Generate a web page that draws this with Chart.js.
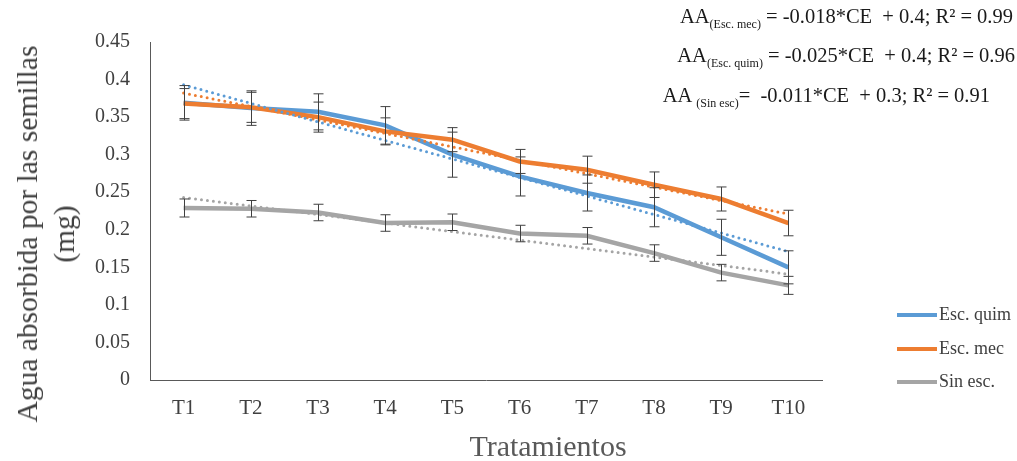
<!DOCTYPE html>
<html>
<head>
<meta charset="utf-8">
<script src="https://cdn.jsdelivr.net/npm/chart.js@4"></script>
<style>
  body { margin: 0; background: #fff; }
  #caja { position: relative; width: 1017px; height: 461px; font-family: "Liberation Serif", serif; }
  .ecuacion { position: absolute; font-size: 20.5px; color: #1a1a1a; white-space: pre; }
  .ecuacion sub { font-size: 12px; }
  .leyenda { position: absolute; left: 897px; font-size: 18px; color: #404040; display: flex; align-items: center; }
  .leyenda span { display: inline-block; width: 40px; height: 4px; margin-right: 2px; }
  .titulo { position: absolute; white-space: nowrap; text-align: center; color: #595959; }
</style>
</head>
<body>
<div id="caja">
  <canvas id="graficoAgua" width="1017" height="461"></canvas>
  <div class="titulo" style="left:46px; top:234px; font-size:29.5px; line-height:37px; color:#404040; transform:translate(-50%,-50%) rotate(-90deg)">Agua absorbida por las semillas<br>(mg)</div>
  <div class="titulo" style="left:548px; top:446px; font-size:30px; transform:translate(-50%,-50%)">Tratamientos</div>
  <div class="ecuacion" style="right:4px; top:5px">AA<sub>(Esc. mec)</sub> = -0.018*CE  + 0.4; R² = 0.99</div>
  <div class="ecuacion" style="right:2px; top:44px">AA<sub>(Esc. quim)</sub> = -0.025*CE  + 0.4; R² = 0.96</div>
  <div class="ecuacion" style="right:27px; top:84px">AA <sub>(Sin esc)</sub>=  -0.011*CE  + 0.3; R² = 0.91</div>
  <div class="leyenda" style="top:304px"><span style="background:#5B9BD5"></span>Esc. quim</div>
  <div class="leyenda" style="top:338px"><span style="background:#ED7D31"></span>Esc. mec</div>
  <div class="leyenda" style="top:371px"><span style="background:#A5A5A5"></span>Sin esc.</div>
</div>
<script>
const tratamientos = ['T1', 'T2', 'T3', 'T4', 'T5', 'T6', 'T7', 'T8', 'T9', 'T10']
const escQuim = [0.369, 0.362, 0.357, 0.339, 0.300, 0.271, 0.249, 0.230, 0.190, 0.150]
const escMec = [0.368, 0.363, 0.350, 0.331, 0.320, 0.291, 0.280, 0.260, 0.241, 0.209]
const sinEsc = [0.229, 0.228, 0.223, 0.209, 0.210, 0.195, 0.192, 0.169, 0.143, 0.126]
const errQuim = [0.023, 0.023, 0.024, 0.025, 0.030, 0.026, 0.024, 0.026, 0.024, 0.022]
const errMec = [0.020, 0.020, 0.020, 0.018, 0.016, 0.016, 0.018, 0.017, 0.016, 0.017]
const errSin = [0.012, 0.011, 0.011, 0.011, 0.011, 0.011, 0.011, 0.011, 0.011, 0.012]
// linhas de tendencia: so o primeiro e o ultimo ponto
const tendQuim = [0.393, null, null, null, null, null, null, null, null, 0.171]
const tendMec = [0.382, null, null, null, null, null, null, null, null, 0.221]
const tendSin = [0.243, null, null, null, null, null, null, null, null, 0.141]
const yTicks = [0, 0.05, 0.1, 0.15, 0.2, 0.25, 0.3, 0.35, 0.4, 0.45]

const azul = '#5B9BD5'
const laranja = '#ED7D31'
const cinza = '#A5A5A5'

const barrasErro = {
    id: 'barrasErro',
    afterDatasetsDraw(chart){
        const ctx = chart.ctx
        const x = chart.scales.x
        const y = chart.scales.y
        const grupos = [[escQuim, errQuim], [escMec, errMec], [sinEsc, errSin]]
        ctx.save()
        ctx.strokeStyle = '#404040'
        ctx.lineWidth = 1
        grupos.forEach(g => {
            g[0].forEach((v, i) => {
                const px = Math.round(x.getPixelForValue(i)) + 0.5
                const top = y.getPixelForValue(v + g[1][i])
                const bot = y.getPixelForValue(v - g[1][i])
                ctx.beginPath()
                ctx.moveTo(px, top); ctx.lineTo(px, bot)
                ctx.moveTo(px - 5, top); ctx.lineTo(px + 5, top)
                ctx.moveTo(px - 5, bot); ctx.lineTo(px + 5, bot)
                ctx.stroke()
            })
        })
        ctx.restore()
    }
}

// order maior = desenhado primeiro (fica embaixo)
function serie(label, data, cor, ordem){
    return { label: label, data: data, borderColor: cor, backgroundColor: cor, borderWidth: 4.5, pointRadius: 0, tension: 0, order: ordem }
}
function tendencia(data, cor){
    return { label: '', data: data, borderColor: cor, borderWidth: 3, borderDash: [0, 6], borderCapStyle: 'round', pointRadius: 0, spanGaps: true, order: 0 }
}

const ctx = document.getElementById('graficoAgua').getContext('2d')
const graph = new Chart(ctx, {
    type: 'line',
    data: {
        labels: tratamientos,
        datasets: [
            serie('Esc. quim', escQuim, azul, 3),
            serie('Esc. mec', escMec, laranja, 2),
            serie('Sin esc.', sinEsc, cinza, 1),
            tendencia(tendQuim, azul),
            tendencia(tendMec, laranja),
            tendencia(tendSin, cinza)
        ]
    },
    options: {
        responsive: false,
        animation: false,
        layout: { padding: { left: 0, top: 42, right: 195, bottom: 0 } },
        plugins: {
            legend: { display: false },
            tooltip: { enabled: false }
        },
        scales: {
            x: {
                offset: true,
                grid: { display: false, drawTicks: false },
                border: { color: '#595959', width: 1 },
                ticks: { color: '#404040', padding: 16, font: { family: 'Liberation Serif', size: 21 } },
                afterFit(scale){ scale.height = 81 }
            },
            y: {
                min: 0,
                max: 0.45,
                grid: { display: false, drawTicks: false },
                border: { color: '#595959', width: 1 },
                afterBuildTicks(scale){ scale.ticks = yTicks.map(v => ({ value: v })) },
                ticks: {
                    color: '#404040', padding: 20,
                    font: { family: 'Liberation Serif', size: 20 },
                    callback: v => String(+v.toFixed(2))
                },
                afterFit(scale){ scale.width = 150 }
            }
        }
    },
    plugins: [barrasErro]
})
</script>
</body>
</html>
